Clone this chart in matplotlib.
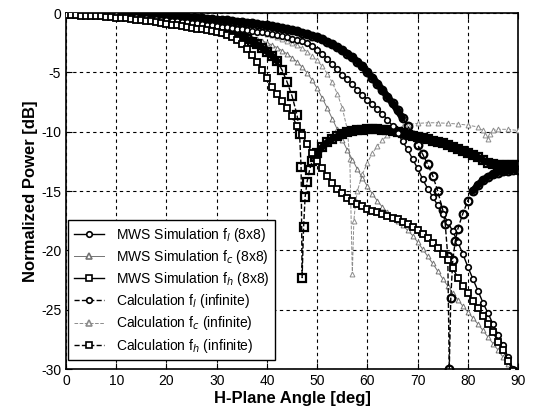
import numpy as np
import matplotlib
matplotlib.use("Agg")
import matplotlib.pyplot as plt

plt.rcParams['font.family'] = ['Liberation Sans', 'DejaVu Sans']
plt.rcParams['axes.unicode_minus'] = False

# angles (deg) for the 8x8 simulations
ang_sim = list(range(0, 91))

sim_l = [0.0, -0.01, -0.02, -0.03, -0.05, -0.07, -0.09, -0.11, -0.14, -0.17,
         -0.2, -0.23, -0.27, -0.31, -0.35, -0.39, -0.43, -0.47, -0.51, -0.55,
         -0.6, -0.65, -0.7, -0.74, -0.78, -0.82, -0.87, -0.92, -0.97, -1.02,
         -1.08, -1.14, -1.2, -1.26, -1.32, -1.38, -1.44, -1.5, -1.57, -1.63,
         -1.7, -1.78, -1.86, -1.95, -2.05, -2.15, -2.27, -2.4, -2.55, -2.8,
         -3.1, -3.45, -3.85, -4.3, -4.75, -5.2, -5.6, -6.0, -6.45, -6.9,
         -7.3, -7.7, -8.1, -8.5, -9.0, -9.5, -10.1, -10.8, -11.5, -12.3,
         -13.1, -14.0, -14.8, -15.5, -16.2, -16.9, -17.6, -18.4, -19.3, -20.3,
         -21.4, -22.4, -23.4, -24.4, -25.3, -26.2, -27.1, -28.0, -29.0, -30.0,
         -31.0]

sim_c = [0.0, 0.0, -0.01, -0.02, -0.04, -0.06, -0.08, -0.1, -0.13, -0.16,
         -0.19, -0.22, -0.26, -0.3, -0.34, -0.38, -0.43, -0.48, -0.53, -0.58,
         -0.64, -0.7, -0.76, -0.82, -0.89, -0.96, -1.03, -1.1, -1.18, -1.26,
         -1.34, -1.43, -1.52, -1.62, -1.72, -1.83, -1.95, -2.07, -2.2, -2.35,
         -2.5, -2.7, -2.92, -3.17, -3.45, -3.77, -4.13, -4.55, -5.05, -5.65,
         -6.35, -7.15, -8.0, -8.9, -9.8, -10.7, -11.55, -12.35, -13.15, -13.9,
         -14.6, -15.25, -15.85, -16.35, -16.8, -17.2, -17.55, -17.9, -18.3, -18.75,
         -19.3, -19.9, -20.5, -21.1, -21.75, -22.4, -23.0, -23.6, -24.15, -24.7,
         -25.2, -25.7, -26.2, -26.75, -27.3, -27.85, -28.4, -29.0, -29.6, -30.3,
         -31.0]

sim_h = [-0.2, -0.2, -0.2, -0.21, -0.22, -0.24, -0.26, -0.29, -0.32, -0.35,
         -0.38, -0.42, -0.46, -0.51, -0.56, -0.61, -0.66, -0.71, -0.77, -0.83,
         -0.9, -0.97, -1.04, -1.11, -1.18, -1.25, -1.32, -1.38, -1.45, -1.52,
         -1.6, -1.7, -1.85, -2.05, -2.3, -2.6, -3.0, -3.5, -4.1, -4.8,
         -5.5, -6.2, -6.8, -7.4, -8.0, -8.7, -9.5, -10.3, -11.0, -11.8,
         -12.5, -13.1, -13.7, -14.3, -14.8, -15.2, -15.55, -15.85, -16.1, -16.3,
         -16.5, -16.65, -16.8, -16.95, -17.1, -17.25, -17.4, -17.6, -17.8, -18.05,
         -18.3, -18.65, -19.0, -19.4, -19.8, -20.3, -20.8, -21.5, -22.3, -23.0,
         -23.6, -24.3, -24.9, -25.5, -26.2, -26.9, -27.7, -28.4, -29.3, -30.2,
         -31.0]

# infinite array calculation
ang_calc_l = (list(range(0, 76)) + [75.5, 76, 76.3, 76.6, 77, 77.5]
              + list(range(78, 91)))
calc_l = [0.0, 0.0, 0.0, -0.01, -0.01, -0.02, -0.02, -0.03, -0.04, -0.05,
          -0.06, -0.07, -0.09, -0.1, -0.12, -0.14, -0.16, -0.18, -0.2, -0.22,
          -0.25, -0.27, -0.3, -0.33, -0.36, -0.39, -0.42, -0.45, -0.48, -0.51,
          -0.55, -0.59, -0.63, -0.67, -0.72, -0.77, -0.82, -0.87, -0.93, -0.99,
          -1.05, -1.12, -1.19, -1.27, -1.36, -1.45, -1.55, -1.66, -1.78, -1.91,
          -2.05, -2.22, -2.42, -2.64, -2.88, -3.14, -3.42, -3.74, -4.1, -4.5,
          -4.95, -5.45, -5.95, -6.5, -7.05, -7.6, -8.2, -8.85, -9.5, -10.3,
          -11.1, -11.9, -12.75, -13.7, -15.0, -16.6,
          -17.8, -20.5, -30.0, -24.0, -20.8, -19.2,
          -18.2, -16.9, -15.8, -15.0, -14.5, -14.1, -13.8, -13.6, -13.45, -13.35,
          -13.3, -13.2, -13.2]

ang_calc_c = (list(range(0, 41, 2)) + list(range(41, 57)) + [56.5, 57.0, 57.3, 57.7]
              + list(range(58, 69)) + [70, 72, 74, 76, 78, 80, 82, 83, 83.5, 84,
                                       84.5, 85, 86, 88, 90])
calc_c = [0.0, 0.0, -0.01, -0.03, -0.05, -0.08, -0.12, -0.16, -0.21, -0.27, -0.34,
          -0.42, -0.5, -0.6, -0.71, -0.83, -0.97, -1.12, -1.3, -1.5, -1.73,
          -1.86, -2.0, -2.16, -2.33, -2.52, -2.73, -2.97, -3.25, -3.6, -4.0,
          -4.5, -5.1, -5.85, -6.8, -8.0, -9.8,
          -12.3, -22.0, -17.5, -15.8,
          -15.0, -13.6, -12.6, -11.8, -11.2, -10.7, -10.3, -10.0, -9.75, -9.55, -9.4,
          -9.3, -9.25, -9.25, -9.3, -9.35, -9.45, -9.6, -9.9, -10.3, -10.6,
          -10.2, -9.9, -9.8, -9.8, -9.9]

ang_calc_h = (list(range(0, 47)) + [46.5, 46.8, 47.0, 47.3, 47.6, 48, 48.5, 49, 49.5]
              + list(range(50, 91)))
calc_h = [0.0, 0.0, 0.0, -0.01, -0.02, -0.03, -0.05, -0.07, -0.09, -0.11,
          -0.14, -0.17, -0.2, -0.23, -0.27, -0.31, -0.35, -0.4, -0.45, -0.5,
          -0.55, -0.61, -0.67, -0.73, -0.8, -0.87, -0.95, -1.03, -1.12, -1.22,
          -1.32, -1.44, -1.56, -1.7, -1.85, -2.02, -2.2, -2.42, -2.65, -2.93,
          -3.25, -3.6, -4.05, -4.8, -5.8, -7.0, -8.6,
          -10.2, -13.0, -22.3, -18.0, -15.5, -14.2, -13.2, -12.5, -12.1,
          -11.8, -11.3, -10.9, -10.6, -10.4, -10.2, -10.05, -9.95, -9.9, -9.85,
          -9.8, -9.8, -9.8, -9.85, -9.9, -9.95, -10.05, -10.15, -10.25, -10.35,
          -10.45, -10.55, -10.65, -10.75, -10.85, -10.95, -11.1, -11.25, -11.45, -11.6,
          -11.8, -11.95, -12.15, -12.4, -12.6, -12.75, -12.8, -12.8, -12.8, -12.8, -12.8]

labels = [r'MWS Simulation f$_l$ (8x8)', r'MWS Simulation f$_c$ (8x8)',
          r'MWS Simulation f$_h$ (8x8)', r'Calculation f$_l$ (infinite)',
          r'Calculation f$_c$ (infinite)', r'Calculation f$_h$ (infinite)']


def dense_band(ax, x, y, lim=0.7):
    # the densely sampled calculation reads as a solid thick line where it is flat
    x = np.asarray(x, float)
    y = np.asarray(y, float)
    slope = np.abs(np.gradient(y, x))
    yb = np.where(slope < lim, y, np.nan)
    ax.plot(x, yb, '-', color='k', lw=5, solid_capstyle='round', zorder=3.8)


fig = plt.figure(figsize=(5.35, 4.13), dpi=100)
ax = fig.add_axes([0.1234, 0.1065, 0.845, 0.862])

gray = '0.45'
ax.plot(ang_calc_c, calc_c, '--', color='0.55', lw=0.7, marker='^', ms=3.5,
        mfc='w', mec='0.55', mew=0.7, label=labels[4], zorder=3)
ax.plot(ang_sim, sim_c, '-', color=gray, lw=0.7, marker='^', ms=3.5,
        mfc='w', mec=gray, mew=0.7, label=labels[1], zorder=3)
dense_band(ax, ang_calc_l, calc_l)
dense_band(ax, ang_calc_h, calc_h)
ax.plot(ang_calc_l, calc_l, '--', color='k', lw=1, marker='o', ms=5.5,
        mfc='none', mec='k', mew=1.6, label=labels[3], zorder=4)
ax.plot(ang_calc_h, calc_h, '--', color='k', lw=1, marker='s', ms=5.5,
        mfc='none', mec='k', mew=1.6, label=labels[5], zorder=4)
ax.plot(ang_sim, sim_l, '-', color='k', lw=1, marker='o', ms=4,
        mfc='w', mec='k', mew=1.2, label=labels[0], zorder=5)
ax.plot(ang_sim, sim_h, '-', color='k', lw=1, marker='s', ms=4,
        mfc='w', mec='k', mew=1.3, label=labels[2], zorder=5)

ax.set_xlim(0, 90)
ax.set_ylim(-30, 0)
ax.set_xticks(range(0, 91, 10))
ax.set_yticks(range(-30, 1, 5))
ax.grid(True, ls=(0, (3, 3)), color='k', lw=0.8)
ax.tick_params(direction='in', top=True, right=True, labelsize=10, length=4)
for s in ax.spines.values():
    s.set_linewidth(1.2)

ax.set_xlabel('H-Plane Angle [deg]', fontsize=12, fontweight='bold', labelpad=2)
ax.set_ylabel('Normalized Power [dB]', fontsize=12, fontweight='bold', labelpad=2)

handles, labs = ax.get_legend_handles_labels()
order = [labs.index(l) for l in labels]
leg = ax.legend([handles[i] for i in order], [labs[i] for i in order],
                loc='lower left', bbox_to_anchor=(0.005, 0.025), borderaxespad=0,
                fontsize=10, labelspacing=0.3, handlelength=2.2,
                fancybox=False, framealpha=1, edgecolor='k')
leg.get_frame().set_linewidth(1.0)
leg.set_zorder(10)
for h in leg.legend_handles:
    h.set_markersize(4)
    h.set_markeredgewidth(1.2)
    h.set_markerfacecolor('w')

fig.savefig('out.png', dpi=100)
